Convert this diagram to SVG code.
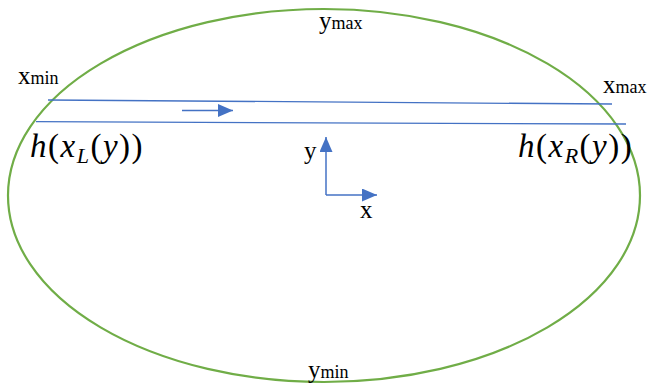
<svg xmlns="http://www.w3.org/2000/svg" width="647" height="384" viewBox="0 0 647 384">
<style>
.t{font-family:"Liberation Serif",serif;fill:#000}
.big{font-size:25px}
.sub{font-size:18px}
.m{font-family:"Liberation Serif",serif;font-size:33px;letter-spacing:1.5px;fill:#000}
.mi{font-style:italic}
.ln{stroke:#4472c4;stroke-width:1.3;fill:none}
.ax{stroke:#4472c4;stroke-width:1.5;fill:none}
</style>
<defs>
<marker id="ah2" viewBox="0 0 10 10" refX="10" refY="5" markerWidth="15" markerHeight="13" markerUnits="userSpaceOnUse" orient="auto" preserveAspectRatio="none"><path d="M0,0L10,5L0,10z" fill="#4472c4"/></marker>
</defs>
<g id="domain"><ellipse cx="324" cy="195.5" rx="316" ry="186.5" fill="none" stroke="#70ad47" stroke-width="2.2"/></g>
<g id="connectors">
<line class="ln" x1="48" y1="100" x2="612" y2="104"/>
<line class="ln" x1="36" y1="121.7" x2="626" y2="124"/>
<line class="ln" x1="182" y1="110.5" x2="233" y2="110.5" marker-end="url(#ah2)"/>
<line class="ax" x1="326" y1="195" x2="326" y2="137" marker-end="url(#ah2)"/>
<line class="ax" x1="326" y1="195" x2="377" y2="195" marker-end="url(#ah2)"/>
</g>
<g id="labels">
<text class="t" x="319" y="29"><tspan class="big">y</tspan><tspan class="sub">max</tspan></text>
<text class="t" x="308" y="378"><tspan class="big">y</tspan><tspan class="sub">min</tspan></text>
<text class="t" x="18" y="84"><tspan class="big">x</tspan><tspan class="sub">min</tspan></text>
<text class="t" x="603" y="93"><tspan class="big">x</tspan><tspan class="sub">max</tspan></text>
<text class="t big" x="304" y="159">y</text>
<text class="t big" x="360" y="218">x</text>
<text class="m" x="30" y="157"><tspan class="mi">h</tspan>(<tspan class="mi">x</tspan><tspan class="mi" font-size="22" dy="6">L</tspan><tspan dy="-6">(</tspan><tspan class="mi">y</tspan>))</text>
<text class="m" x="518" y="157"><tspan class="mi">h</tspan>(<tspan class="mi">x</tspan><tspan class="mi" font-size="22" dy="6">R</tspan><tspan dy="-6">(</tspan><tspan class="mi">y</tspan>))</text>
</g>
</svg>
